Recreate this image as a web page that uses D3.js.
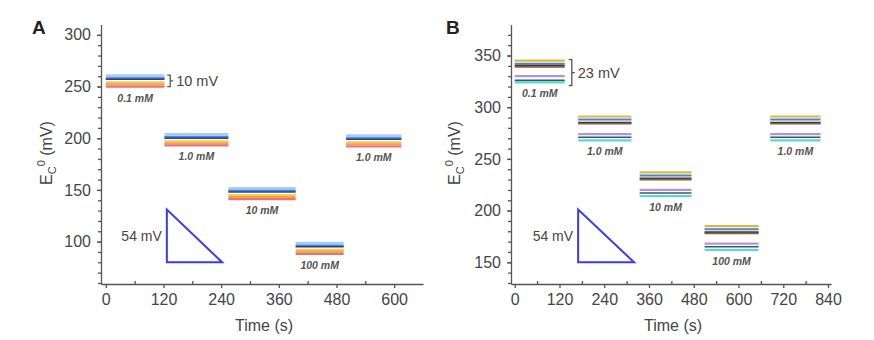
<!DOCTYPE html>
<html>
<head>
<meta charset="utf-8">
<script src="https://cdn.jsdelivr.net/npm/d3@7"></script>
<style>
  body { margin: 0; background: #fff; }
  text { font-family: "Liberation Sans", Arial, sans-serif; fill: #454545; }
  .axis path, .axis line { stroke: #555; stroke-width: 1.3; }
</style>
</head>
<body>
<div id="chart"></div>
<script>
// ---- panel A data ----
const segmentsA = [[0, 122], [122, 255], [255, 395], [395, 495], [500, 615]];
const concA = ["0.1 mM", "1.0 mM", "10 mM", "100 mM", "1.0 mM"];
const seriesNamesA = ["lightblue", "blue", "navy", "yellow", "orange", "red"];
const seriesColorsA = ["#a8cdee", "#4a86cf", "#23439a", "#f3cf3a", "#f0a058", "#e77474"];
const lightblueA = [260, 203, 151, 98, 202];
const blueA = [258, 201, 149, 96, 200];
const navyA = [257, 200, 148, 95, 199];
const yellowA = [254, 197, 145, 92, 196];
const orangeA = [252, 195, 143, 90, 194];
const redA = [250, 193, 141, 88, 192];
const xTicksA = [0, 120, 240, 360, 480, 600];
const yTicksA = [100, 150, 200, 250, 300];

// ---- panel B data ----
const segmentsB = [[0, 134], [170, 313], [335, 474], [509, 654], [685, 820]];
const concB = ["0.1 mM", "1.0 mM", "10 mM", "100 mM", "1.0 mM"];
const seriesNamesB = ["gold", "blue", "dark", "brown", "lavender", "slate", "cyan"];
const seriesColorsB = ["#e4b53e", "#4a86c5", "#3b3b3b", "#8a5e42", "#b98fe0", "#2f5e5a", "#5fd6d6"];
const goldB = [345, 291, 237, 185, 291];
const blueB = [342, 288, 234, 182, 288];
const darkB = [340, 285, 231, 179, 285];
const brownB = [339, 284, 230, 178, 284];
const lavenderB = [330, 274, 220, 168, 274];
const slateB = [326, 271, 217, 165, 271];
const cyanB = [324, 268, 214, 162, 268];
const xTicksB = [0, 120, 240, 360, 480, 600, 720, 840];
const yTicksB = [150, 200, 250, 300, 350];

const svg = d3.select("#chart").append("svg")
  .attr("width", 874)
  .attr("height", 340);

function drawPanel(p) {
  // scales
  let x = d3.scaleLinear().domain(p.xDomain).range([p.left, p.right]);
  let y = d3.scaleLinear().domain(p.yDomain).range([p.bottom, p.top]);
  let g = svg.append("g");

  // minor ticks
  g.append("g").attr("class", "axis")
    .attr("transform", "translate(0," + p.bottom + ")")
    .call(d3.axisBottom(x).tickValues(d3.range(60, p.xDomain[1], 120)).tickSize(-3).tickFormat(""))
    .select(".domain").remove();
  g.append("g").attr("class", "axis")
    .attr("transform", "translate(" + p.left + ",0)")
    .call(d3.axisLeft(y).tickValues(d3.range(Math.ceil(p.yDomain[0] / 10) * 10, p.yDomain[1], 10)).tickSize(3).tickFormat(""))
    .select(".domain").remove();

  // main axes
  let xAxis = g.append("g").attr("class", "axis")
    .attr("transform", "translate(0," + p.bottom + ")")
    .call(d3.axisBottom(x).tickValues(p.xTicks).tickSize(4).tickPadding(6).tickSizeOuter(0));
  let yAxis = g.append("g").attr("class", "axis")
    .attr("transform", "translate(" + p.left + ",0)")
    .call(d3.axisLeft(y).tickValues(p.yTicks).tickSize(4).tickPadding(6).tickSizeOuter(0));
  g.selectAll(".axis text").style("font-size", "16px").style("fill", "#454545");

  // axis titles
  g.append("text")
    .attr("x", (p.left + p.right) / 2 + 2)
    .attr("y", 331)
    .attr("text-anchor", "middle")
    .style("font-size", "16px")
    .text("Time (s)");

  let yt = g.append("text")
    .attr("transform", "translate(" + p.yTitleX + "," + 153 + ") rotate(-90)")
    .attr("text-anchor", "middle")
    .style("font-size", "16px");
  yt.append("tspan").text("E");
  yt.append("tspan").attr("dy", 4).style("font-size", "11px").text("C");
  yt.append("tspan").attr("dy", -11).attr("dx", 0).style("font-size", "11px").text("0");
  yt.append("tspan").attr("dy", 7).text(" (mV)");

  // panel letter
  g.append("text")
    .attr("x", p.letterX)
    .attr("y", 34)
    .style("font-size", "19px")
    .style("font-weight", "bold")
    .style("fill", "#222")
    .text(p.letter);

  // segments: one flat trace per series per concentration step
  p.series.forEach((vals, si) => {
    p.segments.forEach((seg, k) => {
      g.append("line")
        .attr("x1", x(seg[0]))
        .attr("x2", x(seg[1]))
        .attr("y1", y(vals[k]))
        .attr("y2", y(vals[k]))
        .attr("stroke", p.colors[si])
        .attr("stroke-width", p.widths[si]);
    });
  });

  // concentration labels
  p.segments.forEach((seg, k) => {
    let low = d3.min(p.series, (s) => s[k]);
    g.append("text")
      .attr("x", x((seg[0] + seg[1]) / 2))
      .attr("y", y(low) + 15)
      .attr("text-anchor", "middle")
      .style("font-size", "10.5px")
      .style("font-weight", "bold")
      .style("font-style", "italic")
      .style("fill", "#555")
      .text(p.conc[k]);
  });

  // bracket
  let bx = x(p.bracket.t), by1 = y(p.bracket.hi), by2 = y(p.bracket.lo);
  let bm = (by1 + by2) / 2;
  g.append("path")
    .attr("d", "M" + (bx - 3) + "," + by1 + "H" + bx + "V" + by2 + "H" + (bx - 3) +
      "M" + bx + "," + bm + "H" + (bx + 3))
    .attr("fill", "none")
    .attr("stroke", "#555")
    .attr("stroke-width", 1.3);
  g.append("text")
    .attr("x", bx + 6)
    .attr("y", bm + 5)
    .style("font-size", "14.5px")
    .text(p.bracket.label);

  // slope triangle
  let tri = p.triangle;
  g.append("path")
    .attr("d", d3.line()([
      [x(tri.t0), y(tri.top)],
      [x(tri.t0), y(tri.base)],
      [x(tri.t1), y(tri.base)]
    ]) + "Z")
    .attr("fill", "none")
    .attr("stroke", "#3a3af0")
    .attr("stroke-width", 2);
  g.append("text")
    .attr("x", x(tri.t0) - 5)
    .attr("y", y((tri.top + tri.base) / 2) + 5)
    .attr("text-anchor", "end")
    .style("font-size", "14px")
    .text("54 mV");
}

drawPanel({
  letter: "A", letterX: 32,
  left: 101, right: 423, top: 24.5, bottom: 284,
  xDomain: [-10, 660], yDomain: [59, 310],
  xTicks: xTicksA, yTicks: yTicksA,
  yTitleX: 52,
  segments: segmentsA, conc: concA,
  series: [lightblueA, blueA, navyA, yellowA, orangeA, redA],
  colors: seriesColorsA,
  widths: [4, 2.2, 1.6, 2.4, 2.2, 2.2],
  bracket: { t: 134, hi: 261, lo: 250, label: "10 mV" },
  triangle: { t0: 127, t1: 242, top: 131, base: 80 }
});

drawPanel({
  letter: "B", letterX: 446,
  left: 511, right: 831, top: 24.5, bottom: 284,
  xDomain: [-10, 848], yDomain: [129, 380],
  xTicks: xTicksB, yTicks: yTicksB,
  yTitleX: 460,
  segments: segmentsB, conc: concB,
  series: [goldB, blueB, darkB, brownB, lavenderB, slateB, cyanB],
  colors: seriesColorsB,
  widths: [2.2, 2, 2, 1.6, 2.2, 1.6, 2.2],
  bracket: { t: 153, hi: 346, lo: 321, label: "23 mV" },
  triangle: { t0: 170, t1: 320, top: 201, base: 150 }
});
</script>
</body>
</html>
